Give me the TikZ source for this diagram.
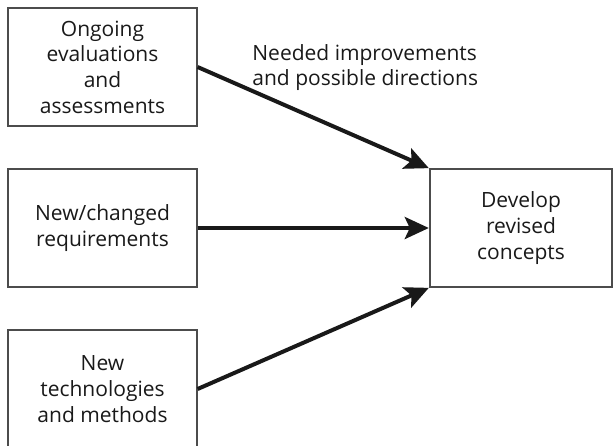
\documentclass[tikz,border=0pt]{standalone}
\usepackage{fontspec}
\setmainfont{Open Sans}
\usetikzlibrary{arrows.meta}

\begin{document}
\begin{tikzpicture}[
  x=1pt, y=1pt,
  font=\fontsize{10.5}{12.8}\selectfont,
  in_box/.style={rectangle, draw=black!70, line width=0.6pt, text=black!90, minimum width=94.5pt, minimum height=59pt, align=center, inner sep=0pt},
  out_box/.style={rectangle, draw=black!70, line width=0.6pt, text=black!90, minimum width=91pt, minimum height=59pt, align=center, inner sep=0pt},
  feed_arrow/.style={line width=2pt, black!90, -{Stealth[length=12pt, width=11pt, inset=2.5pt]}, shorten >=0.3pt},
]
\useasboundingbox (0,0) rectangle (306.5,-222.5);
\begin{scope}
\clip (0,0) rectangle (306.5,-222.5);
\draw (51.25,-33.5) node (evals) [in_box] {Ongoing\\evaluations\\and\\assessments};
\draw (51.25,-114) node (reqs) [in_box] {New/changed\\requirements};
\draw (51.25,-194.5) node (techs) [in_box] {New\\technologies\\and methods};
\draw (260.5,-114) node (concepts) [out_box] {Develop\\revised\\concepts};
\end{scope}
\draw (126,-22) node (needs) [anchor=north west, align=left, inner sep=0pt, text=black!90] {Needed improvements\\and possible directions};
\draw [feed_arrow] (evals.east) -- (concepts.north west);
\draw [feed_arrow] (reqs.east) -- (concepts.west);
\draw [feed_arrow] (techs.east) -- (concepts.south west);
\end{tikzpicture}
\end{document}
